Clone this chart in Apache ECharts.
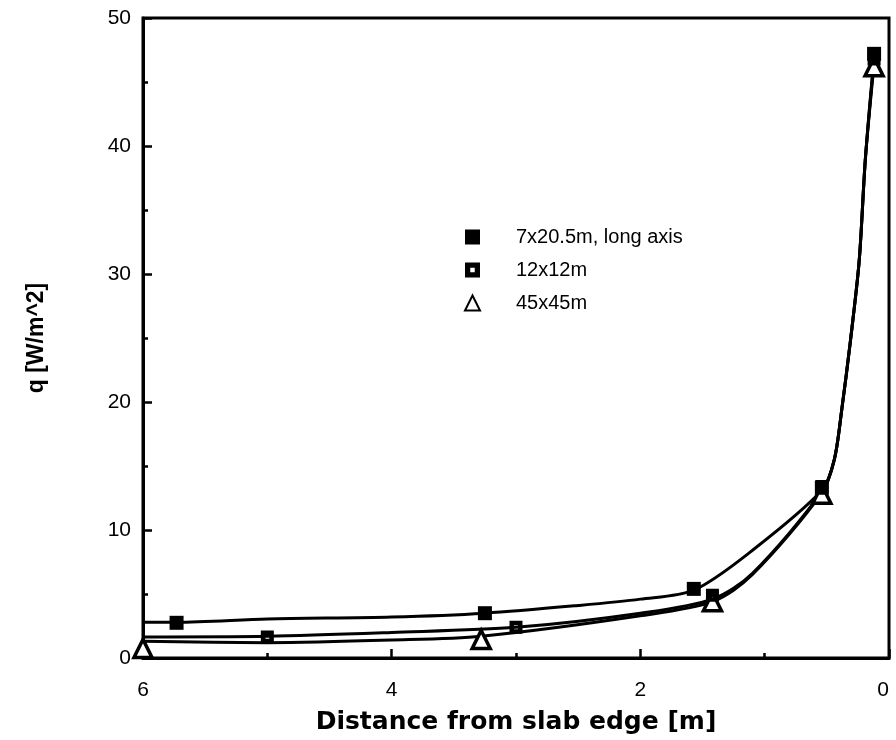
<!DOCTYPE html>
<html>
<head>
<meta charset="utf-8">
<script src="https://cdn.jsdelivr.net/npm/echarts@6/dist/echarts.min.js"></script>
<style>
  html, body { margin: 0; padding: 0; background: #fff; }
  #chart { width: 896px; height: 740px; }
</style>
</head>
<body>
<div id="chart"></div>
<script>
// Heat flux q versus distance from the slab edge, three slab sizes.
const seriesNames = ['7x20.5m, long axis', '12x12m', '45x45m'];

// Measured points [distance m, q W/m^2]
const pts7x20 = [[5.73, 2.75], [3.25, 3.5], [1.57, 5.4], [0.54, 13.3], [0.12, 47.2]];
const pts12x12 = [[5.0, 1.65], [3.0, 2.4], [1.42, 4.9], [0.54, 13.4], [0.12, 46.8]];
const pts45x45 = [[6.0, 0.75], [3.28, 1.45], [1.42, 4.4], [0.54, 12.8], [0.12, 46.2]];

// Fitted curves through each data set
const fit7x20 = [[6, 2.8], [5.73, 2.8], [5, 3.05], [4, 3.2], [3.25, 3.5], [2.5, 4.1], [2, 4.6],
  [1.57, 5.3], [1.1, 8.4], [0.54, 13.1], [0.44, 15.5], [0.38, 19.4], [0.31, 24.8],
  [0.24, 31], [0.19, 39], [0.12, 47]];
const fit12x12 = [[6, 1.65], [5, 1.7], [4, 2.0], [3, 2.4], [2, 3.5], [1.42, 4.6], [1.1, 6.6],
  [0.54, 13.0], [0.44, 15.5], [0.38, 19.4], [0.31, 24.8], [0.24, 31], [0.19, 39], [0.12, 46.8]];
const fit45x45 = [[6, 1.3], [5, 1.2], [4, 1.4], [3.28, 1.7], [2, 3.3], [1.42, 4.4], [1.1, 6.5],
  [0.54, 12.9], [0.44, 15.5], [0.38, 19.4], [0.31, 24.8], [0.24, 31], [0.19, 39], [0.12, 46.4]];

const xTicks = { min: 0, max: 6, interval: 2 };
const yTicks = { min: 0, max: 50, interval: 10 };

const SANS = '"Liberation Sans", Arial, Helvetica, sans-serif';
const WIDE = '"DejaVu Sans", Verdana, sans-serif';
const hollowSquare = 'path://M0,0H10V10H0Z M3.5,3.5V6.5H6.5V3.5Z';

function curve(data) {
  return {
    type: 'line', data: data, smooth: 0.3, symbol: 'none', silent: true,
    lineStyle: { color: '#000', width: 3 }, z: 2
  };
}

const tickStyle = { color: '#000', width: 2.5 };

const chart = echarts.init(document.getElementById('chart'), null, { renderer: 'canvas' });
chart.setOption({
  animation: false,
  backgroundColor: '#fff',
  grid: { left: 143, right: 7, top: 18, bottom: 82, show: true, borderColor: '#000', borderWidth: 3 },
  legend: {
    data: seriesNames, orient: 'vertical', left: 459, top: 222, itemGap: 13,
    itemWidth: 15, itemHeight: 15,
    textStyle: { fontFamily: SANS, fontSize: 20, color: '#000', padding: [0, 0, 0, 31] }
  },
  xAxis: {
    type: 'value', inverse: true, min: xTicks.min, max: xTicks.max, interval: xTicks.interval,
    name: 'Distance from slab edge [m]', nameLocation: 'middle', nameGap: 52,
    nameTextStyle: { fontFamily: WIDE, fontSize: 25, fontWeight: 'bold', color: '#000' },
    axisLine: { onZero: false, lineStyle: { color: '#000', width: 3 } },
    axisTick: { inside: true, length: 9, lineStyle: tickStyle },
    minorTick: { show: true, splitNumber: 2, length: 5, lineStyle: tickStyle },
    splitLine: { show: false },
    axisLabel: { fontFamily: SANS, fontSize: 21, color: '#000', margin: 22, alignMinLabel: 'right' }
  },
  yAxis: {
    type: 'value', min: yTicks.min, max: yTicks.max, interval: yTicks.interval,
    name: 'q [W/m^2]', nameLocation: 'middle', nameGap: 95,
    nameTextStyle: { fontFamily: SANS, fontSize: 23, fontWeight: 'bold', color: '#000' },
    axisLine: { onZero: false, lineStyle: { color: '#000', width: 3 } },
    axisTick: { inside: true, length: 9, lineStyle: tickStyle },
    minorTick: { show: true, splitNumber: 2, length: 5, lineStyle: tickStyle },
    splitLine: { show: false },
    axisLabel: { fontFamily: SANS, fontSize: 21, color: '#000', margin: 12 }
  },
  series: [
    curve(fit7x20), curve(fit12x12), curve(fit45x45),
    {
      name: seriesNames[0], type: 'scatter', data: pts7x20, symbol: 'rect', symbolSize: 14,
      itemStyle: { color: '#000', opacity: 1 }, z: 5
    },
    {
      name: seriesNames[1], type: 'scatter', data: pts12x12, symbol: hollowSquare, symbolSize: 13,
      itemStyle: { color: '#000', opacity: 1 }, z: 5
    },
    {
      name: seriesNames[2], type: 'scatter', data: pts45x45, symbol: 'triangle', symbolSize: 18,
      itemStyle: { color: '#fff', borderColor: '#000', borderWidth: 3.5, opacity: 1 }, z: 4
    }
  ]
});
</script>
</body>
</html>
